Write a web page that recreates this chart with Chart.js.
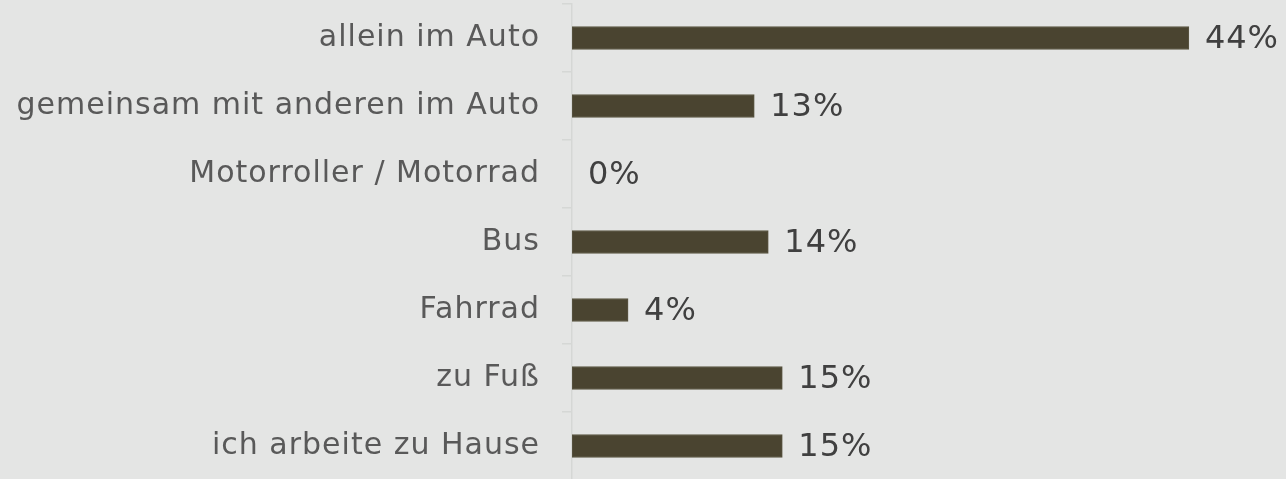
<!DOCTYPE html>
<html>
<head>
<meta charset="utf-8">
<script src="https://cdn.jsdelivr.net/npm/chart.js@4.4.1/dist/chart.umd.min.js"></script>
<style>
  html, body { margin: 0; padding: 0; background: #e4e5e4; overflow: hidden; }
  #wrap { width: 1286px; height: 480px; }
</style>
</head>
<body>
<div id="wrap"><canvas id="c" width="1286" height="480"></canvas></div>
<script>
// Verkehrsmittel auf dem Weg zur Arbeit (Anteile in %)
const categories = [
  'allein im Auto',
  'gemeinsam mit anderen im Auto',
  'Motorroller / Motorrad',
  'Bus',
  'Fahrrad',
  'zu Fuß',
  'ich arbeite zu Hause'
];
const shares = [44, 13, 0, 14, 4, 15, 15];

const FONT = '"DejaVu Sans", Verdana, sans-serif';

// etwas weitere Laufweite für alle Beschriftungen
const textSpacing = {
  id: 'textSpacing',
  beforeDraw(chart) {
    chart.ctx.letterSpacing = '1px';
  }
};

// Prozentwerte rechts neben den Balken
const valueLabels = {
  id: 'valueLabels',
  afterDatasetsDraw(chart) {
    const ctx = chart.ctx;
    const meta = chart.getDatasetMeta(0);
    ctx.save();
    ctx.letterSpacing = '1px';
    ctx.font = '32px ' + FONT;
    ctx.fillStyle = '#404040';
    ctx.textAlign = 'left';
    ctx.textBaseline = 'middle';
    meta.data.forEach((bar, i) => {
      ctx.fillText(shares[i] + '%', bar.x + 16, bar.y + 2);
    });
    ctx.restore();
  }
};

new Chart(document.getElementById('c'), {
  type: 'bar',
  data: {
    labels: categories,
    datasets: [{
      data: shares,
      backgroundColor: '#4a4430',
      borderColor: '#5c5744',
      borderWidth: 1,
      borderSkipped: false,
      barThickness: 23
    }]
  },
  options: {
    indexAxis: 'y',
    responsive: false,
    animation: false,
    layout: { padding: { top: 4, right: 13, bottom: 0, left: 0 } },
    plugins: {
      legend: { display: false },
      tooltip: { enabled: false }
    },
    scales: {
      x: {
        display: false,
        min: 0,
        max: 50
      },
      y: {
        afterFit(scale) {
          scale.width = 572;
          scale.paddingTop = 0;
          scale.paddingBottom = 0;
        },
        grid: {
          offset: true,
          drawOnChartArea: false,
          tickLength: 10,
          color: '#d5d7d5',
          lineWidth: 1.5
        },
        border: { color: '#d5d7d5', width: 1.5 },
        ticks: {
          padding: 22,
          color: '#595959',
          font: { family: FONT, size: 30 }
        }
      }
    }
  },
  plugins: [textSpacing, valueLabels]
});
</script>
</body>
</html>
